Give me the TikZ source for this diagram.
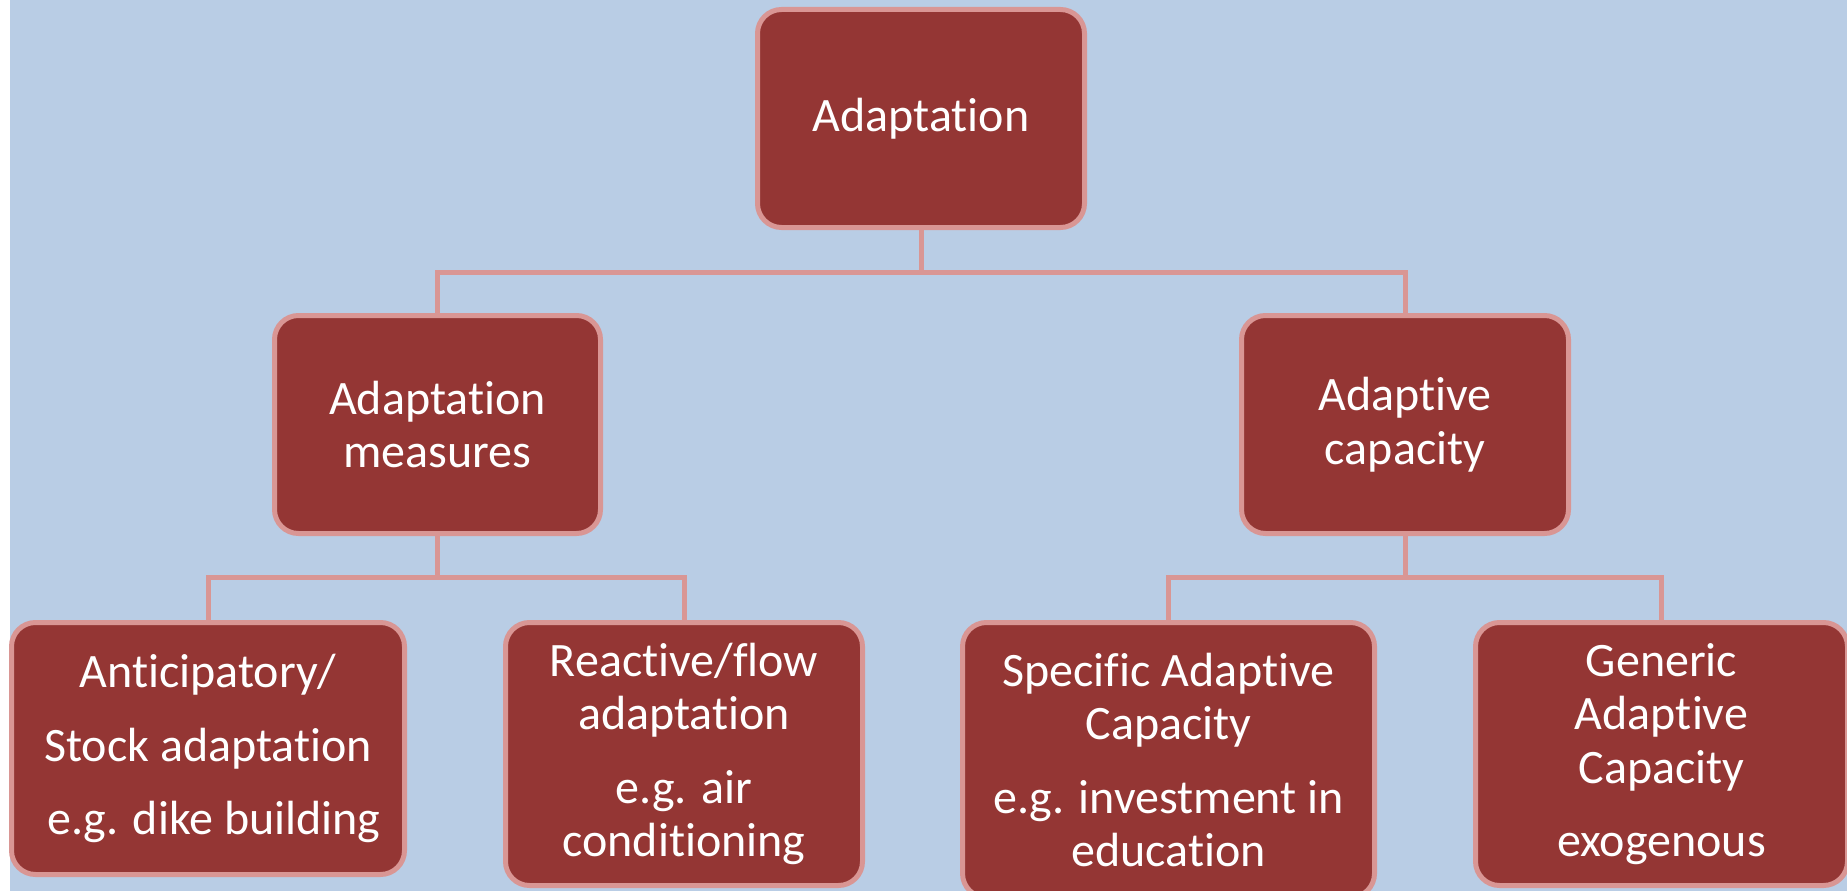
\documentclass[tikz,border=0pt]{standalone}
\usepackage{fontspec}
\setmainfont{Carlito}[Ligatures={NoCommon}]
\definecolor{bgblue}{HTML}{B9CDE5}
\definecolor{boxred}{HTML}{943634}
\definecolor{edgepink}{HTML}{D99694}
\begin{document}
\begin{tikzpicture}[x=1pt,y=-1pt,
  box/.style={draw=edgepink, line width=5pt, fill=boxred, rounded corners=24pt,
    text=white, align=center, inner sep=0pt,
    font=\fontsize{48}{53.5}\selectfont},
  link/.style={draw=edgepink, line width=5pt, line join=miter}]
\useasboundingbox (0,0) rectangle (1847,891);
\fill[white] (0,0) rectangle (1847,891);
\fill[bgblue] (10,0) rectangle (1847,891);

\coordinate (j0) at (921,272);
\coordinate (j1) at (437.5,577.5);
\coordinate (j2) at (1405,577.5);

\node[box, minimum width=327pt, minimum height=218pt] (top) at (921,118.5) {Adaptation};
\node[box, minimum width=326pt, minimum height=218pt] (mL) at (437.5,424.5) {Adaptation\\measures};
\node[box, minimum width=327pt, minimum height=218pt] (mR) at (1405,424.5) {Adaptive\\capacity};

\node[box, minimum width=393pt, minimum height=252pt] (b1) at (208,748.5)
  {Anticipatory/\\[20pt]Stock adaptation\\[20pt]\hspace*{0.25em}e.g. dike building};
\node[box, minimum width=357pt, minimum height=263pt] (b2) at (684,754)
  {Reactive/flow\\adaptation\\[20pt]e.g. air\\conditioning};
\node[box, minimum width=412pt, minimum height=275pt] (b3) at (1168.5,760)
  {Specific Adaptive\\Capacity\\[20pt]e.g. investment in\\education};
\node[box, minimum width=372pt, minimum height=263pt] (b4) at (1661.5,754)
  {Generic\\Adaptive\\Capacity\\[20pt]exogenous};

\draw[link] (top.south) -- (j0);
\draw[link] (mL.north) |- (j0) -| (mR.north);
\draw[link] (mL.south) -- (j1);
\draw[link] (b1.north) |- (j1) -| (b2.north);
\draw[link] (mR.south) -- (j2);
\draw[link] (b3.north) |- (j2) -| (b4.north);
\end{tikzpicture}
\end{document}
